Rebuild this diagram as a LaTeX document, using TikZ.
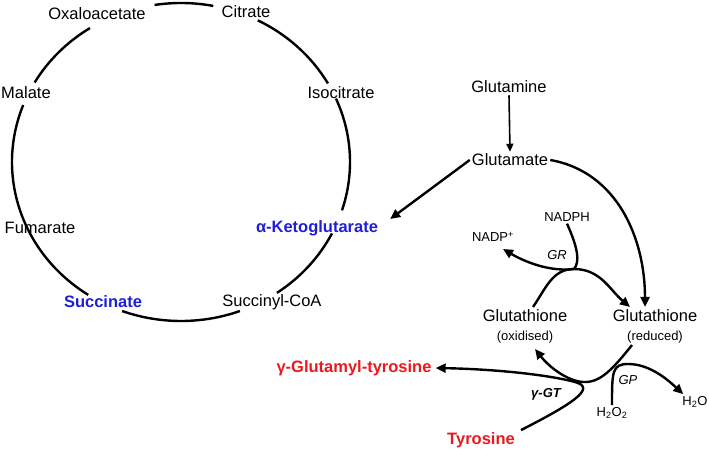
\documentclass[tikz,border=0pt]{standalone}
\usepackage{fontspec}
\setmainfont{Liberation Sans}
\usetikzlibrary{arrows.meta}
\definecolor{kgblue}{RGB}{30,30,215}
\definecolor{tyred}{RGB}{235,25,30}
\begin{document}
\begin{tikzpicture}[x=1pt,y=1pt,
	lab/.style={font=\fontsize{16.5}{19}\selectfont,inner sep=2pt},
	sm/.style={font=\fontsize{13}{15}\selectfont,inner sep=2pt},
	hi/.style={inner sep=2pt,font=\fontsize{16.5}{19}\selectfont\bfseries,text=#1},
	cyc/.style={line width=2.4pt},
	rxn/.style={line width=2.4pt,-{Triangle[length=10pt,width=9pt]}}]
	\useasboundingbox (0,0) rectangle (709,-452);
	\node[lab] (cit) at (246,-12) {Citrate};
	\node[lab] (oxa) at (97,-14) {Oxaloacetate};
	\node[lab] (mal) at (26,-93) {Malate};
	\node[lab] (iso) at (341,-93) {Isocitrate};
	\node[lab] (fum) at (40,-228) {Fumarate};
	\node[hi=kgblue] (akg) at (317,-228) {α-Ketoglutarate};
	\node[hi=kgblue] (suc) at (103,-302) {Succinate};
	\node[lab] (sca) at (272,-302) {Succinyl-CoA};
	\foreach \a/\b in {79/99,29.6/63,-17.7/23.5,-55.4/-26.7,-110.4/-69.6,159/236.7,122.6/150}
		\draw[cyc] (181,-162) ++(\a:169pt and 159pt) arc[start angle=\a,end angle=\b,x radius=169pt,y radius=159pt];
	\node[lab] (gln) at (509,-87) {Glutamine};
	\node[lab] (glu) at (510,-160) {Glutamate};
	\node[sm] (nadph) at (567,-217) {NADPH};
	\node[sm] (nadp) at (493,-237) {NADP\textsuperscript{+}};
	\node[sm,font=\fontsize{13}{15}\selectfont\itshape] (gr) at (557,-255) {GR};
	\node[lab,align=center] (gox) at (525,-326) {Glutathione\\{\fontsize{13}{15}\selectfont(oxidised)}};
	\node[lab,align=center] (gred) at (655,-326) {Glutathione\\{\fontsize{13}{15}\selectfont(reduced)}};
	\node[sm,font=\fontsize{13}{15}\selectfont\itshape] (gp) at (628,-380) {GP};
	\node[sm] (h2o2) at (612,-413) {H\textsubscript{2}O\textsubscript{2}};
	\node[sm] (h2o) at (695,-402) {H\textsubscript{2}O};
	\node[hi=tyred] (ggt) at (354,-368) {γ-Glutamyl-tyrosine};
	\node[hi=tyred] (tyr) at (481,-440) {Tyrosine};
	\node[sm,font=\fontsize{13}{15}\selectfont\bfseries\itshape] (ggtase) at (546,-394) {γ-GT};
	\coordinate (jgr) at (574,-269);
	\draw[line width=1.6pt,-{Triangle[length=8pt,width=7pt]}] (gln.south) -- (glu.north);
	\draw[rxn] (glu.west) -- ([shift={(10pt,9pt)}]akg.east);
	\draw[rxn] (glu.east) to[out=-10,in=90] ([xshift=-10pt]gred.north);
	\draw[rxn] ([xshift=8pt]gox.north) to[out=55,in=180] (jgr) to[out=0,in=140] ([xshift=-25pt]gred.north);
	\draw[rxn] (nadph.south) .. controls (578,-248) and (580,-262) .. (jgr) .. controls (550,-272) and (525,-262) .. ([shift={(10pt,-5pt)}]nadp.south);
	\draw[rxn] ([xshift=-23pt]gred.south) .. controls (612,-370) and (600,-383) .. (583,-382) .. controls (568,-381) and (550,-368) .. ([shift={(10pt,-4pt)}]gox.south);
	\draw[rxn] (h2o2.north) .. controls (612,-372) and (612,-364) .. (628,-364) .. controls (650,-364) and (668,-380) .. ([xshift=3pt]h2o.north west);
	\draw[rxn] ([xshift=4pt]tyr.north east) .. controls (570,-405) and (598,-388) .. (575,-382) .. controls (545,-374) and (490,-369) .. ([xshift=2pt]ggt.east);
\end{tikzpicture}
\end{document}
